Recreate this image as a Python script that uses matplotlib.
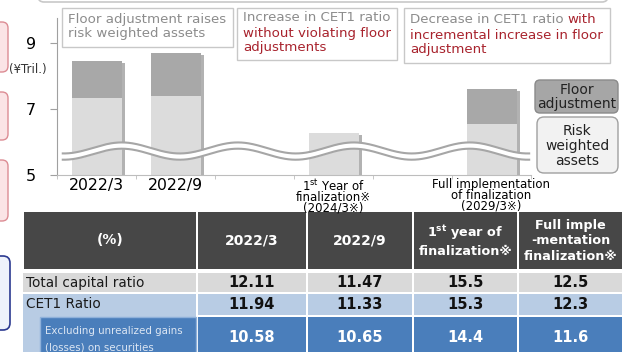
import numpy as np
import matplotlib.pyplot as plt
from matplotlib.patches import FancyBboxPatch, Rectangle

plt.rcParams['font.family'] = ['DejaVu Sans', 'Noto Sans CJK JP']

# risk weighted assets (¥Tril.), floor adjustment stacked on top
periods = ['2022/3', '2022/9',
           '1$^{\\mathrm{st}}$ Year of\nfinalization※\n(2024/3※)',
           'Full implementation\nof finalization\n(2029/3※)']
slots = [0, 1, 3, 5]
rwa = [7.33, 7.39, 6.28, 6.55]
rwa_with_floor = [8.45, 8.70, 6.28, 7.60]
y_ticks = [5, 7, 9]

# capital ratios (%)
col_heads = ['(%)', '2022/3', '2022/9',
             '1$^{\\mathbf{st}}$ year of\nfinalization※',
             'Full imple\n-mentation\nfinalization※']
row_names = ['Total capital ratio', 'CET1 Ratio',
             'Excluding unrealized gains\n(losses) on securities']
total_capital = [12.11, 11.47, 15.5, 12.5]
cet1 = [11.94, 11.33, 15.3, 12.3]
cet1_excl = [10.58, 10.65, 14.4, 11.6]
decimals = [2, 2, 1, 1]

RED = '#a8232d'
GREY_TXT = '#8c8c8c'

W, H = 627, 352
fig = plt.figure(figsize=(W / 100, H / 100), dpi=100)

# background layer in pixel coordinates (y down)
bg = fig.add_axes([0, 0, 1, 1])
bg.set_xlim(0, W)
bg.set_ylim(H, 0)
bg.axis('off')

# bits of neighbouring slide elements
for y0, y1 in [(22, 72), (92, 140), (160, 221)]:
    bg.add_patch(FancyBboxPatch((-20, y0), 28, y1 - y0,
                                boxstyle='round,pad=0,rounding_size=6',
                                fc='#fbe4e6', ec='#dc8c94', lw=1))
bg.add_patch(FancyBboxPatch((-20, 256), 30, 74,
                            boxstyle='round,pad=0,rounding_size=7',
                            fc='#eef2fb', ec='#2b3990', lw=1.2))
bg.add_patch(FancyBboxPatch((38, -30), 570, 32,
                            boxstyle='round,pad=0,rounding_size=6',
                            fc='white', ec='#c8c8c8', lw=1.2))

# comment boxes above the chart
bg.add_patch(Rectangle((62, 8), 171, 39, fc='white', ec='#c8c8c8', lw=1))
bg.text(68, 13, 'Floor adjustment raises\nrisk weighted assets', color=GREY_TXT,
        fontsize=9.6, va='top', linespacing=1.08)

bg.add_patch(Rectangle((237, 8), 160, 52, fc='white', ec='#c8c8c8', lw=1))
bg.text(243, 11, 'Increase in CET1 ratio', color=GREY_TXT, fontsize=9.6, va='top')
bg.text(243, 27, 'without violating floor\nadjustments', color=RED,
        fontsize=9.6, va='top', linespacing=1.1)

bg.add_patch(Rectangle((404, 8), 206, 55, fc='white', ec='#c8c8c8', lw=1))
t = bg.text(410, 13, 'Decrease in CET1 ratio', color=GREY_TXT, fontsize=9.6, va='top')
bg.annotate('with', xy=(1, 0), xycoords=t, xytext=(3, 0), textcoords='offset points',
            color=RED, fontsize=9.6, va='bottom', ha='left')
bg.text(410, 29, 'incremental increase in floor\nadjustment', color=RED,
        fontsize=9.6, va='top', linespacing=1.1)

# legend boxes
bg.add_patch(FancyBboxPatch((535, 80), 83, 33, boxstyle='round,pad=0,rounding_size=5',
                            fc='#a6a6a6', ec='#8a8a8a', lw=1))
bg.text(576.5, 97, 'Floor\nadjustment', ha='center', va='center', fontsize=10,
        color='#222222', linespacing=1.0)
bg.add_patch(FancyBboxPatch((537, 117), 81, 56, boxstyle='round,pad=0,rounding_size=7',
                            fc='#f2f2f2', ec='#a0a0a0', lw=1))
bg.text(577.5, 146, 'Risk\nweighted\nassets', ha='center', va='center', fontsize=10,
        color='#222222', linespacing=1.05)

bg.text(28, 70, '(¥Tril.)', ha='center', va='center', fontsize=8.5, color='#333333')

# table
col_x = [23, 197, 307, 413, 518, 623]
head_y = (212, 269)
for i, head in enumerate(col_heads):
    x0, x1 = col_x[i], col_x[i + 1]
    bg.add_patch(Rectangle((x0 + 0.75, head_y[0]), x1 - x0 - 1.5, head_y[1] - head_y[0],
                           fc='#474747', ec='none'))
    bg.text((x0 + x1) / 2, sum(head_y) / 2, head, color='white', fontweight='bold',
            fontsize=10 if i < 3 else 9.2, ha='center', va='center',
            linespacing=1.35 if i < 4 else 1.25)

rows_y = [(273, 292), (294, 315), (317, 370)]
row_fc = ['#d9d9d9', '#b8cce4', '#4a7ebb']
row_vals = [total_capital, cet1, cet1_excl]
for r, (name, vals) in enumerate(zip(row_names, row_vals)):
    y0, y1 = rows_y[r]
    yc = (y0 + y1) / 2 if r < 2 else 337
    if r < 2:
        bg.add_patch(Rectangle((col_x[0], y0), col_x[1] - col_x[0] - 0.75, y1 - y0,
                               fc=row_fc[r], ec='none'))
        bg.text(26, yc, name, fontsize=9.8, color='#1a1a1a', va='center')
        txt_c = '#111111'
    else:
        bg.add_patch(Rectangle((col_x[0], rows_y[1][0]), col_x[1] - col_x[0] - 0.75,
                               y1 - rows_y[1][0], fc=row_fc[1], ec='none'))
        bg.add_patch(Rectangle((40, y0), col_x[1] - 40 - 1, y1 - y0,
                               fc=row_fc[2], ec='#8fb1da', lw=1))
        bg.text(45, 339, name, fontsize=7.4, color='#dce6f3', va='center',
                linespacing=1.75)
        txt_c = 'white'
    for c, v in enumerate(vals):
        x0, x1 = col_x[c + 1], col_x[c + 2]
        bg.add_patch(Rectangle((x0 + 0.75, y0), x1 - x0 - 1.5, y1 - y0,
                               fc=row_fc[r], ec='none'))
        bg.text((x0 + x1) / 2, yc, f'{v:.{decimals[c]}f}', color=txt_c,
                fontweight='bold', fontsize=10.5, ha='center', va='center')

# bar chart
ax = fig.add_axes([57 / W, 1 - 175 / H, 474 / W, 157 / H])
ax.patch.set_alpha(0)
ax.set_xlim(-0.5, 5.5)
ax.set_ylim(5, 5 + 157 / 33)

bw = 50 / 79
base = [v - 5 for v in rwa]
floor = [a - b for a, b in zip(rwa_with_floor, rwa)]
ax.bar([s + 3.5 / 79 for s in slots], [v - 5.06 for v in rwa_with_floor], bottom=5,
       width=bw, color='#b2b2b2', zorder=1)
ax.bar(slots, base, bottom=5, width=bw, color='#dcdcdc', zorder=2)
ax.bar(slots, floor, bottom=rwa, width=bw, color='#a8a8a8', zorder=2)

# axis break wave
xw = np.linspace(-0.44, 5.49, 400)
yw = 5.82 + 0.167 * np.cos(2 * np.pi * (xw - 0.32) / 1.468)
ax.fill_between(xw, yw - 0.19, yw, color='white', lw=0, zorder=3)
ax.plot(xw, yw, color='#a6a6a6', lw=1.5, zorder=4, solid_capstyle='butt')
ax.plot(xw, yw - 0.19, color='#a6a6a6', lw=1.5, zorder=4, solid_capstyle='butt')

for side in ['top', 'right']:
    ax.spines[side].set_visible(False)
ax.spines['left'].set_color('#a0a0a0')
ax.spines['bottom'].set_color('#bdbdbd')
ax.set_yticks(y_ticks)
ax.set_yticklabels([str(v) for v in y_ticks], fontsize=11.5)
ax.tick_params(axis='y', length=5, color='#a0a0a0', pad=10)

ax.set_xticks(slots)
ax.set_xticklabels(periods)
ax.set_xticks(np.arange(-0.5, 6, 1), minor=True)
ax.tick_params(axis='x', which='major', length=0, pad=2)
ax.tick_params(axis='x', which='minor', length=3, color='#bdbdbd')
for i, lab in enumerate(ax.get_xticklabels()):
    if i < 2:
        lab.set_fontsize(11.3)
    else:
        lab.set_fontsize(8.5)
        lab.set_linespacing(0.78)

fig.savefig('out.png', dpi=100)
